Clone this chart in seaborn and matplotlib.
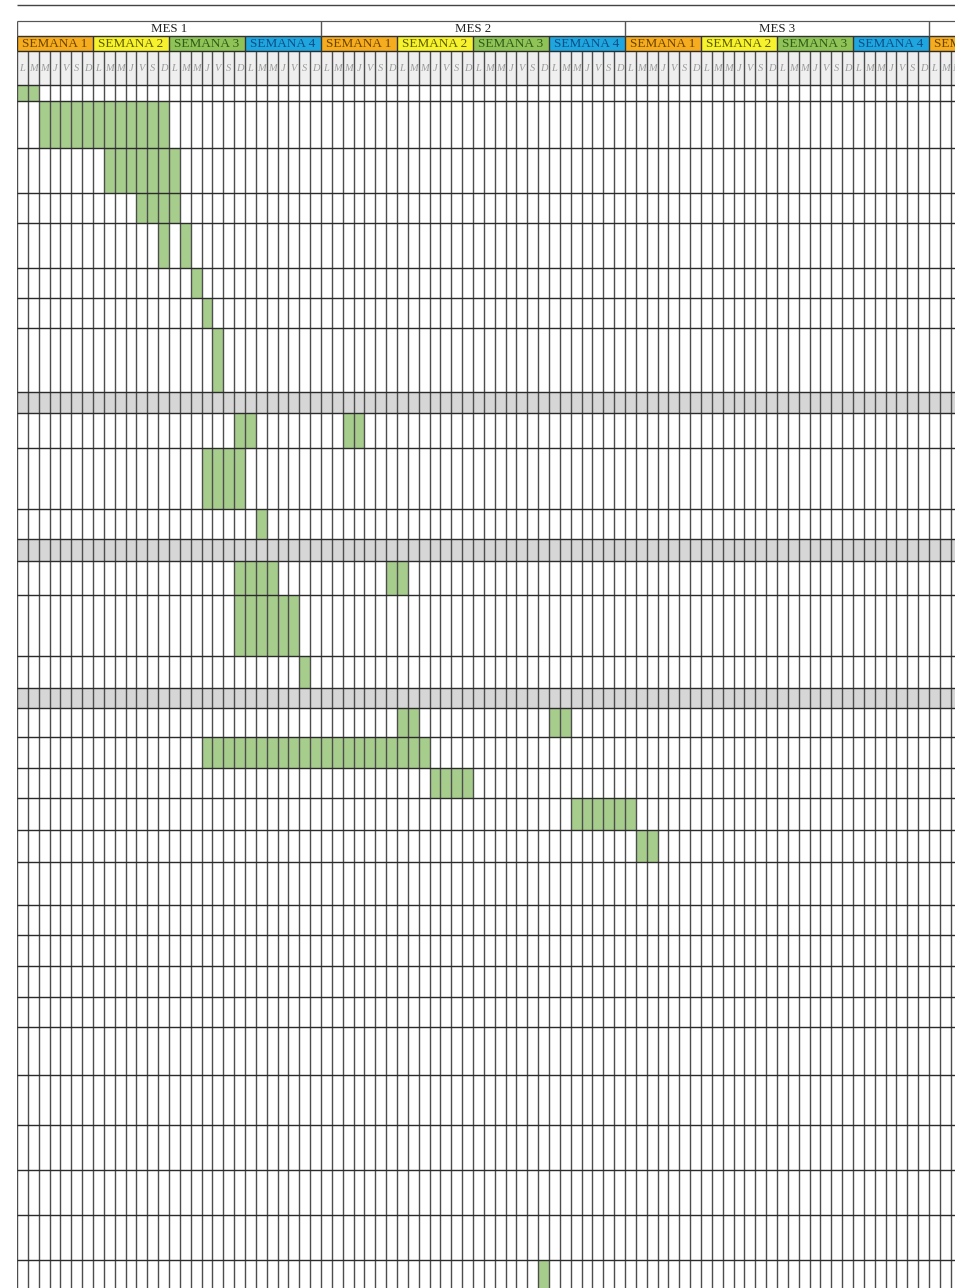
import numpy as np
import seaborn as sns
import matplotlib.pyplot as plt
from matplotlib.colors import ListedColormap

# --- datos del cronograma ---
meses = ["MES 1", "MES 2", "MES 3", "MES 4"]
semanas = ["SEMANA 1", "SEMANA 2", "SEMANA 3", "SEMANA 4"]
dias = ["L", "M", "M", "J", "V", "S", "D"]

# barras: fila de la tabla, dia de inicio, numero de dias
fila = [0, 1, 2, 3, 4, 4, 5, 6, 7, 9, 9, 10, 11, 13, 13, 14, 15, 17, 17, 18, 19, 20, 21, 32]
inicio = [0, 2, 8, 11, 13, 15, 16, 17, 18, 20, 30, 17, 22, 20, 34, 20, 26, 35, 49, 17, 38, 51, 57, 48]
duracion = [2, 12, 7, 4, 1, 1, 1, 1, 1, 2, 2, 4, 1, 4, 2, 6, 1, 2, 2, 21, 4, 6, 2, 1]
separadores = [8, 12, 16]  # filas grises de titulo

# --- layout (px) ---
W, H = 955, 1288
x0 = 17.0
col_w = 10.857
n_cols = 87
bordes = [85, 100.7, 148.3, 192.7, 223.3, 268.3, 298.3, 328.3, 391.7, 413.3,
          448.3, 509.3, 539.3, 560.7, 595, 656, 688, 707.5, 736.7, 767.7,
          798.3, 830, 861.7, 905, 935, 966, 996.7, 1026.7, 1075, 1125,
          1170, 1215, 1260, 1305]
y_top, y_mes, y_sem, y_dia = 4.5, 20.5, 36, 51

colores = ["#ffffff", "#a6cd8b", "#d6d6d6", "#efefef",
           "#f5ac1e", "#f7f22e", "#8fc358", "#20a6df"]
texto_sem = ["#6b4200", "#5c5a00", "#2e5b17", "#0d4d86"]

sns.set_theme(style="white")
plt.rcParams['font.family'] = ['Liberation Serif', 'DejaVu Serif']

# matriz por pixel de alto, una columna por dia
matriz = np.zeros((H, n_cols))
ys = np.arange(H) + 0.5
semana_idx = (np.arange(n_cols) // 7) % 4
matriz[(ys > y_sem) & (ys < y_dia), :] = semana_idx + 4
matriz[(ys > y_dia) & (ys < bordes[0]), :] = 3
banda = np.searchsorted(bordes, ys) - 1
for s in separadores:
    matriz[banda == s, :] = 2
for f, a, d in zip(fila, inicio, duracion):
    matriz[banda == f, a:a + d] = 1

fig = plt.figure(figsize=(W / 100, H / 100), dpi=100)
ax = fig.add_axes([x0 / W, 0, (W - x0) / W, 1])
sns.heatmap(matriz, cmap=ListedColormap(colores), vmin=-0.5, vmax=7.5,
            cbar=False, xticklabels=False, yticklabels=False, ax=ax,
            rasterized=True)
ax.set_xlim(0, (W - x0) / col_w)
ax.set_ylim(H, 0)
ax.axis("off")

# lineas de la cuadricula
px = 0.72
ax.vlines(np.arange(n_cols + 1), y_dia, H, color="#4d4d4d", lw=1.4 * px)
ax.hlines([y_dia] + bordes[:-1], 0, n_cols, color="#2b2b2b", lw=1.4 * px)
ax.hlines([y_sem], 0, n_cols, color="#333333", lw=1.4 * px)
ax.vlines(np.arange(0, n_cols + 1, 7), y_sem, y_dia, color="#333333", lw=1.4 * px)
ax.vlines(np.arange(0, n_cols + 1, 28), y_mes, y_sem, color="#555555", lw=1.4 * px)
ax.hlines([y_mes], 0, n_cols, color="#555555", lw=1.2 * px)
ax.hlines([y_top], 0, n_cols, color="#444444", lw=1.4 * px)

# textos de cabecera
for i, m in enumerate(meses):
    ax.text(i * 28 + 14, (y_mes + y_sem) / 2 + 0.5, m, ha="center", va="center",
            fontsize=9.3, color="#222222")
for k in range(int(np.ceil(n_cols / 7))):
    ax.text(k * 7 + 3.5, (y_sem + y_dia) / 2 + 0.5, semanas[k % 4], ha="center",
            va="center", fontsize=9.5, color=texto_sem[k % 4], clip_on=True)
for c in range(n_cols):
    ax.text(c + 0.5, 68, dias[c % 7], ha="center", va="center", fontsize=7.5,
            style="italic", color="#9a9a9a", clip_on=True)

plt.savefig("out.png", dpi=100)
